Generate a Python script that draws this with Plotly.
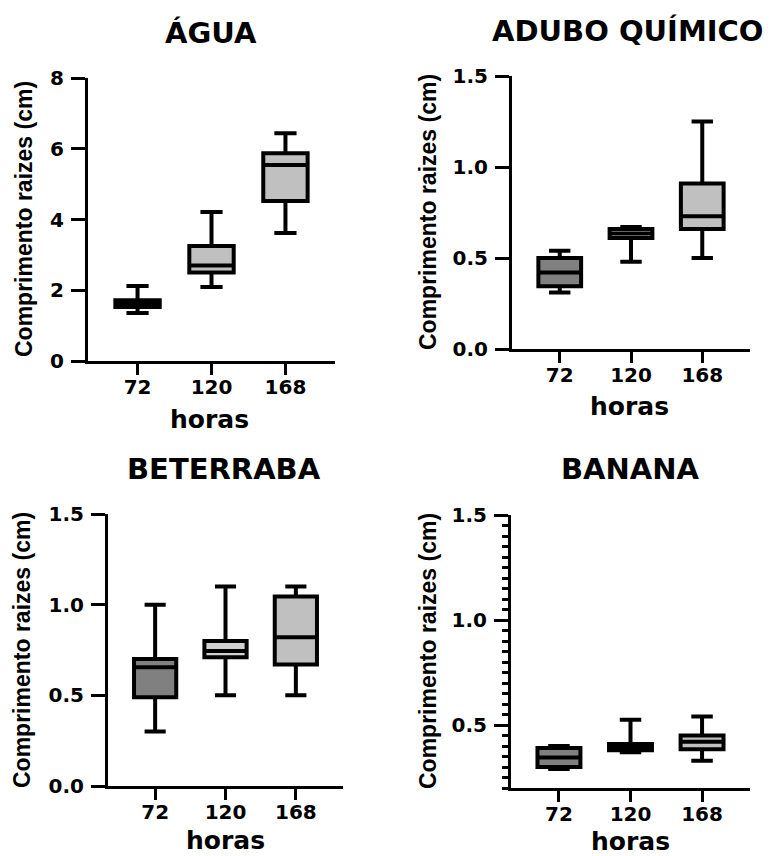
import plotly.graph_objects as go

# page body has an 8px margin in the browser; figure is sized to fit the window
OFF = 8
W, H = 772 - OFF, 856 - OFF

categories = ["72", "120", "168"]

panel_titles = ["ÁGUA", "ADUBO QUÍMICO", "BETERRABA", "BANANA"]

# box statistics per panel (72, 120, 168 horas)
agua_lo = [1.36, 2.09, 3.62]
agua_q1 = [1.53, 2.50, 4.52]
agua_med = [1.64, 2.70, 5.54]
agua_q3 = [1.72, 3.25, 5.87]
agua_hi = [2.12, 4.21, 6.44]

adubo_lo = [0.31, 0.48, 0.50]
adubo_q1 = [0.345, 0.61, 0.66]
adubo_med = [0.42, 0.635, 0.73]
adubo_q3 = [0.50, 0.66, 0.91]
adubo_hi = [0.54, 0.67, 1.25]

beterraba_lo = [0.30, 0.50, 0.50]
beterraba_q1 = [0.49, 0.71, 0.67]
beterraba_med = [0.655, 0.745, 0.82]
beterraba_q3 = [0.70, 0.80, 1.045]
beterraba_hi = [1.00, 1.10, 1.10]

banana_lo = [0.29, 0.37, 0.33]
banana_q1 = [0.30, 0.38, 0.385]
banana_med = [0.345, 0.395, 0.42]
banana_q3 = [0.39, 0.41, 0.45]
banana_hi = [0.40, 0.525, 0.54]

y_ranges = [[0, 8], [0, 1.5], [0, 1.5], [0.2, 1.5]]
y_ticks = [[0, 2, 4, 6, 8], [0.0, 0.5, 1.0, 1.5], [0.0, 0.5, 1.0, 1.5], [0.5, 1.0, 1.5]]

stats = [
    (agua_lo, agua_q1, agua_med, agua_q3, agua_hi),
    (adubo_lo, adubo_q1, adubo_med, adubo_q3, adubo_hi),
    (beterraba_lo, beterraba_q1, beterraba_med, beterraba_q3, beterraba_hi),
    (banana_lo, banana_q1, banana_med, banana_q3, banana_hi),
]

fill_colors = [
    ["#a8a8a8", "#c0c0c0", "#c0c0c0"],
    ["#808080", "#c8c8c8", "#c0c0c0"],
    ["#808080", "#d0d0d0", "#c0c0c0"],
    ["#808080", "#c8c8c8", "#c0c0c0"],
]

# layout geometry in window pixels: (x_left, x_right, y_top, y_bottom)
boxes_px = [(88, 335, 78, 361), (512, 750, 76, 349), (108, 343, 514, 786), (511, 750, 515, 788)]
title_px = [(211, 33), (628, 31), (224, 469), (630, 469)]
ytitle_px = [(24, 219), (428, 212), (22, 650), (428, 651)]
xtitle_px = [(210, 419), (629, 407), (225, 840), (630, 841)]


def px(x):
    return (x - OFF) / W


def py(y):
    return 1 - (y - OFF) / H


FONT = "DejaVu Sans"

fig = go.Figure()
annotations = []

for i in range(4):
    ax = "" if i == 0 else str(i + 1)
    lo, q1, med, q3, hi = stats[i]
    for j, c in enumerate(categories):
        fig.add_trace(go.Box(
            x=[c], lowerfence=[lo[j]], q1=[q1[j]], median=[med[j]], q3=[q3[j]], upperfence=[hi[j]],
            fillcolor=fill_colors[i][j], line=dict(color="black", width=4),
            whiskerwidth=0.5, width=0.6, boxpoints=False, showlegend=False,
            hoverinfo="skip", xaxis="x" + ax, yaxis="y" + ax,
        ))
    x0, x1, yt, yb = boxes_px[i]
    xa = dict(
        domain=[px(x0), px(x1)], anchor="y" + ax, type="category",
        categoryorder="array", categoryarray=categories, range=[-0.67, 2.67],
        showline=True, linecolor="black", linewidth=3, ticks="outside", ticklen=11,
        tickwidth=3, tickcolor="black", showgrid=False, zeroline=False,
        tickfont=dict(family=FONT, size=20, color="black", weight="bold"),
        ticklabelstandoff=-5, fixedrange=True, automargin=False,
    )
    ya = dict(
        domain=[py(yb), py(yt)], anchor="x" + ax, range=y_ranges[i],
        tickvals=y_ticks[i], tickformat="d" if i == 0 else ".1f",
        showline=True, linecolor="black", linewidth=3, ticks="outside", ticklen=14,
        tickwidth=3, tickcolor="black", showgrid=False, zeroline=False,
        tickfont=dict(family=FONT, size=20, color="black", weight="bold"),
        ticklabelstandoff=3, fixedrange=True, automargin=False,
    )
    if i == 3:
        ya["minor"] = dict(dtick=0.05, tick0=0, ticks="outside", ticklen=6, tickwidth=2.5, tickcolor="black")
    fig.update_layout(**{"xaxis" + ax: xa, "yaxis" + ax: ya})

    tx, ty = title_px[i]
    annotations.append(dict(text=panel_titles[i], x=px(tx), y=py(ty), xref="paper", yref="paper",
                            showarrow=False, xanchor="center", yanchor="middle",
                            font=dict(family=FONT, size=29, color="black", weight="bold")))
    yx, yy = ytitle_px[i]
    annotations.append(dict(text="Comprimento raizes (cm)", x=px(yx), y=py(yy), xref="paper", yref="paper",
                            showarrow=False, xanchor="center", yanchor="middle", textangle=-90,
                            font=dict(family="Liberation Sans", size=23, color="black", weight="bold")))
    hx, hy = xtitle_px[i]
    annotations.append(dict(text="horas", x=px(hx), y=py(hy), xref="paper", yref="paper",
                            showarrow=False, xanchor="center", yanchor="middle",
                            font=dict(family=FONT, size=25, color="black", weight="bold")))

fig.update_layout(
    width=W, height=H, margin=dict(l=0, r=0, t=0, b=0, pad=0, autoexpand=False),
    paper_bgcolor="white", plot_bgcolor="white",
    boxmode="overlay", annotations=annotations, showlegend=False,
)

fig.write_html("out.html")
